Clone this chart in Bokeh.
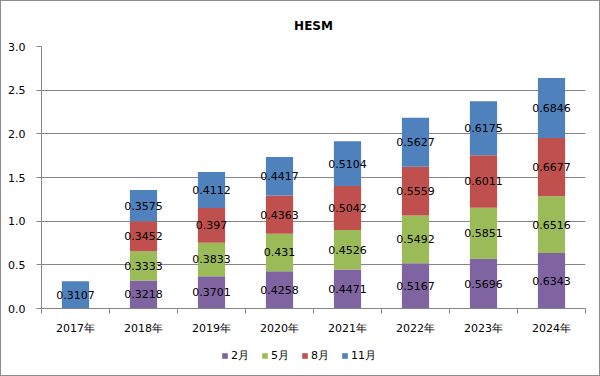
import numpy as np
from bokeh.plotting import figure
from bokeh.layouts import column
from bokeh.models import (ColumnDataSource, Range1d, FixedTicker, Legend, LegendItem,
                          NumeralTickFormatter)
from bokeh.embed import file_html
from bokeh.resources import INLINE
from bokeh.core.properties import value

years = ["2017年", "2018年", "2019年", "2020年", "2021年", "2022年", "2023年", "2024年"]
feb = [0.0, 0.3218, 0.3701, 0.4258, 0.4471, 0.5167, 0.5696, 0.6343]
may = [0.0, 0.3333, 0.3833, 0.431, 0.4526, 0.5492, 0.5851, 0.6516]
aug = [0.0, 0.3452, 0.397, 0.4363, 0.5042, 0.5559, 0.6011, 0.6677]
nov = [0.3107, 0.3575, 0.4112, 0.4417, 0.5104, 0.5627, 0.6175, 0.6846]
series_names = ["2月", "5月", "8月", "11月"]
colors = ["#8064A2", "#9BBB59", "#C0504D", "#4F81BD"]
y_ticks = [0.0, 0.5, 1.0, 1.5, 2.0, 2.5, 3.0]

FONT = "DejaVu Sans"
GRAY = "#868686"

xs = [i + 0.5 for i in range(len(years))]
keys = ["feb", "may", "aug", "nov"]
series = [feb, may, aug, nov]
src = ColumnDataSource(dict(x=xs, feb=feb, may=may, aug=aug, nov=nov))

p = figure(width=598, height=338, output_backend="svg", toolbar_location=None,
           x_range=Range1d(0, len(years)), y_range=Range1d(0, 3.0),
           min_border_left=40, min_border_right=14, min_border_top=45, min_border_bottom=31)

p.title.text = "HESM"
p.title.align = "center"
p.title.text_font = FONT
p.title.text_font_size = "12px"
p.title.text_font_style = "bold"
p.title.text_color = "#000000"
p.title.standoff = 28

rs = p.vbar_stack(keys, x="x", width=0.4, source=src, color=colors, line_color=None)

# data labels at segment centres
lx, ly, lt = [], [], []
bottoms = np.zeros(len(years))
for s in series:
    arr = np.array(s)
    for i, v in enumerate(s):
        if v > 0:
            lx.append(xs[i])
            ly.append(float(bottoms[i] + v / 2))
            lt.append(str(v))
    bottoms = bottoms + arr
p.text(x=lx, y=ly, text=lt, text_align="center", text_baseline="middle",
       text_font=value(FONT), text_font_size="11px", text_color="#000000")

# axes
p.xaxis.ticker = FixedTicker(ticks=xs, minor_ticks=list(range(len(years) + 1)))
p.xaxis.major_label_overrides = {x: y for x, y in zip(xs, years)}
p.xaxis.major_tick_line_color = None
p.xaxis.major_tick_out = 0
p.xaxis.major_tick_in = 0
p.xaxis.minor_tick_out = 5
p.xaxis.minor_tick_in = 0
p.xaxis.minor_tick_line_color = GRAY
p.xaxis.axis_line_color = GRAY
p.xaxis.major_label_standoff = 8
p.xaxis.major_label_text_font = FONT
p.xaxis.major_label_text_font_size = "11px"
p.xaxis.major_label_text_color = "#000000"

p.yaxis.ticker = FixedTicker(ticks=y_ticks)
p.yaxis.formatter = NumeralTickFormatter(format="0.0")
p.yaxis.major_tick_out = 5
p.yaxis.major_tick_in = 0
p.yaxis.major_tick_line_color = GRAY
p.yaxis.minor_tick_line_color = None
p.yaxis.axis_line_color = GRAY
p.yaxis.major_label_standoff = 11
p.yaxis.major_label_text_font = FONT
p.yaxis.major_label_text_font_size = "11px"
p.yaxis.major_label_text_color = "#000000"

p.xgrid.grid_line_color = None
p.ygrid.grid_line_color = GRAY
p.outline_line_color = None

# legend strip below the chart (swatch glyphs have zero height, so only the legend shows them)
lf = figure(width=598, height=36, output_backend="svg", toolbar_location=None,
            x_range=Range1d(0, 1), y_range=Range1d(0, 1),
            min_border=0, x_axis_type=None, y_axis_type=None)
lf.grid.grid_line_color = None
lf.outline_line_color = None
lrs = [lf.vbar(x=[0.5], top=[0], bottom=[0], width=0.01, fill_color=c, line_color=None)
       for c in colors]
legend = Legend(items=[LegendItem(label=n, renderers=[r]) for n, r in zip(series_names, lrs)],
                orientation="horizontal", location=(180, 12),
                glyph_width=7, glyph_height=7, label_standoff=3, spacing=10,
                padding=2, margin=0, border_line_color=None, background_fill_alpha=0,
                label_text_font=FONT, label_text_font_size="11px", label_text_color="#000000")
lf.add_layout(legend)

layout = column(p, lf, spacing=0, styles={"border": "1px solid #8c8c8c"})

open("out.html", "w").write(file_html(layout, INLINE))
